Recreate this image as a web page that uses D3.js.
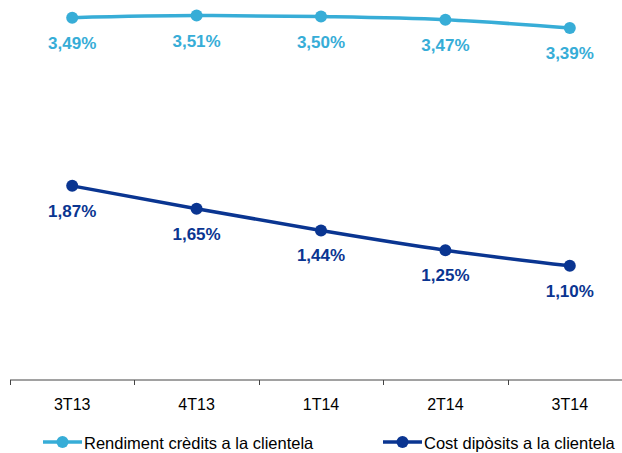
<!DOCTYPE html>
<html>
<head>
<meta charset="utf-8">
<script src="https://cdn.jsdelivr.net/npm/d3@7"></script>
<style>
  body { margin: 0; background: #fff; }
  svg { display: block; font-family: "Liberation Sans", Arial, sans-serif; }
</style>
</head>
<body>
<svg id="chart" width="622" height="453"></svg>
<script>
const quarters = ['3T13', '4T13', '1T14', '2T14', '3T14'];
const rendiment = [3.49, 3.51, 3.50, 3.47, 3.39];
const costDiposits = [1.87, 1.65, 1.44, 1.25, 1.10];
const seriesNames = ['Rendiment crèdits a la clientela', 'Cost dipòsits a la clientela'];

const lightBlue = '#37add7';
const darkBlue = '#0a3591';

const svg = d3.select('#chart');

const x = d3.scaleBand().domain(quarters).range([10, 632]);
const y = d3.scaleLinear().domain([0, 3.66]).range([380, 0]);

// x axis
const axis = svg.append('g').attr('transform', 'translate(0,380)');
axis.append('line')
    .attr('x1', 10).attr('x2', 622)
    .attr('stroke', '#444').attr('stroke-width', 1);
axis.selectAll('.tick')
    .data(quarters)
    .join('line')
    .attr('x1', d => Math.round(x(d)) + 0.5)
    .attr('x2', d => Math.round(x(d)) + 0.5)
    .attr('y1', 0).attr('y2', 5)
    .attr('stroke', '#444');
axis.selectAll('text')
    .data(quarters)
    .join('text')
    .attr('x', d => x(d) + x.bandwidth() / 2)
    .attr('y', 29.5)
    .attr('text-anchor', 'middle')
    .attr('font-size', 16)
    .attr('fill', '#000')
    .text(d => d);

const line = d3.line()
    .x((d, i) => x(quarters[i]) + x.bandwidth() / 2)
    .y(d => y(d))
    .curve(d3.curveMonotoneX);

function drawSeries(values, color) {
    const g = svg.append('g');
    g.append('path')
        .datum(values)
        .attr('d', line)
        .attr('fill', 'none')
        .attr('stroke', color)
        .attr('stroke-width', 3.5);
    g.selectAll('circle')
        .data(values)
        .join('circle')
        .attr('cx', (d, i) => x(quarters[i]) + x.bandwidth() / 2)
        .attr('cy', d => y(d))
        .attr('r', 6)
        .attr('fill', color);
    g.selectAll('text')
        .data(values)
        .join('text')
        .attr('x', (d, i) => x(quarters[i]) + x.bandwidth() / 2)
        .attr('y', d => y(d) + 31)
        .attr('text-anchor', 'middle')
        .attr('font-size', 17)
        .attr('font-weight', 'bold')
        .attr('fill', color)
        .text(d => d.toFixed(2).replace('.', ',') + '%');
}

drawSeries(rendiment, lightBlue);
drawSeries(costDiposits, darkBlue);

// legend
const legendX = [43, 383];
const legendColors = [lightBlue, darkBlue];
const legend = svg.selectAll('.legend')
    .data(seriesNames)
    .join('g')
    .attr('transform', (d, i) => `translate(${legendX[i]},442)`);
legend.append('line')
    .attr('x1', 0).attr('x2', 39)
    .attr('stroke', (d, i) => legendColors[i])
    .attr('stroke-width', 3.5);
legend.append('circle')
    .attr('cx', 19.5).attr('r', 6)
    .attr('fill', (d, i) => legendColors[i]);
legend.append('text')
    .attr('x', 41).attr('y', 6.5)
    .attr('font-size', 16.5)
    .attr('fill', '#000')
    .text(d => d);
</script>
</body>
</html>
